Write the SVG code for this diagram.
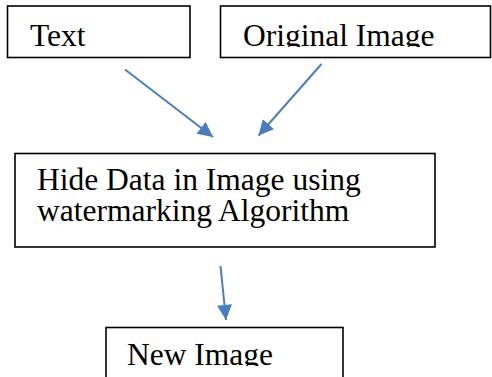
<svg xmlns="http://www.w3.org/2000/svg" width="492" height="377" viewBox="0 0 492 377">
  <style>
    .box { fill: #ffffff; stroke: #000000; stroke-width: 1.6; }
    .label { font-family: "Liberation Serif", "Times New Roman", serif; font-size: 31.5px; fill: #000000; }
    .edge { stroke: #4a7ebb; stroke-width: 2; fill: none; marker-end: url(#arrow); }
  </style>
  <defs>
    <marker id="arrow" viewBox="0 0 10 10" refX="10" refY="5" markerWidth="8" markerHeight="7.5" markerUnits="strokeWidth" orient="auto">
      <path d="M0,0 L10,5 L0,10 Z" fill="#4a7ebb"/>
    </marker>
    <!-- text areas are cut off at their lower edge -->
    <clipPath id="clip-text"><rect x="8" y="7" width="181" height="40"/></clipPath>
    <clipPath id="clip-orig"><rect x="221" y="7" width="269" height="40"/></clipPath>
    <clipPath id="clip-new"><rect x="107" y="328" width="236" height="38"/></clipPath>
  </defs>

  <g id="node-text">
    <rect class="box" x="7.5" y="6" width="182.5" height="51.5"/>
    <text class="label" x="30" y="45.5" clip-path="url(#clip-text)">Text</text>
  </g>

  <g id="node-original">
    <rect class="box" x="220.5" y="6" width="270" height="51.5"/>
    <text class="label" x="243" y="45.5" clip-path="url(#clip-orig)">Original Image</text>
  </g>

  <g id="node-hide">
    <rect class="box" x="15" y="153.5" width="420" height="93.5"/>
    <text class="label" x="37" y="190">Hide Data in Image using<tspan x="37" dy="31">watermarking Algorithm</tspan></text>
  </g>

  <g id="node-new">
    <rect class="box" x="106" y="327.5" width="237" height="60"/>
    <text class="label" x="127" y="365" clip-path="url(#clip-new)">New Image</text>
  </g>

  <g id="connectors">
    <line class="edge" x1="125" y1="69.5" x2="213" y2="137"/>
    <line class="edge" x1="321.5" y1="64" x2="258.5" y2="135.5"/>
    <line class="edge" x1="220.5" y1="266" x2="226" y2="320"/>
  </g>
</svg>
